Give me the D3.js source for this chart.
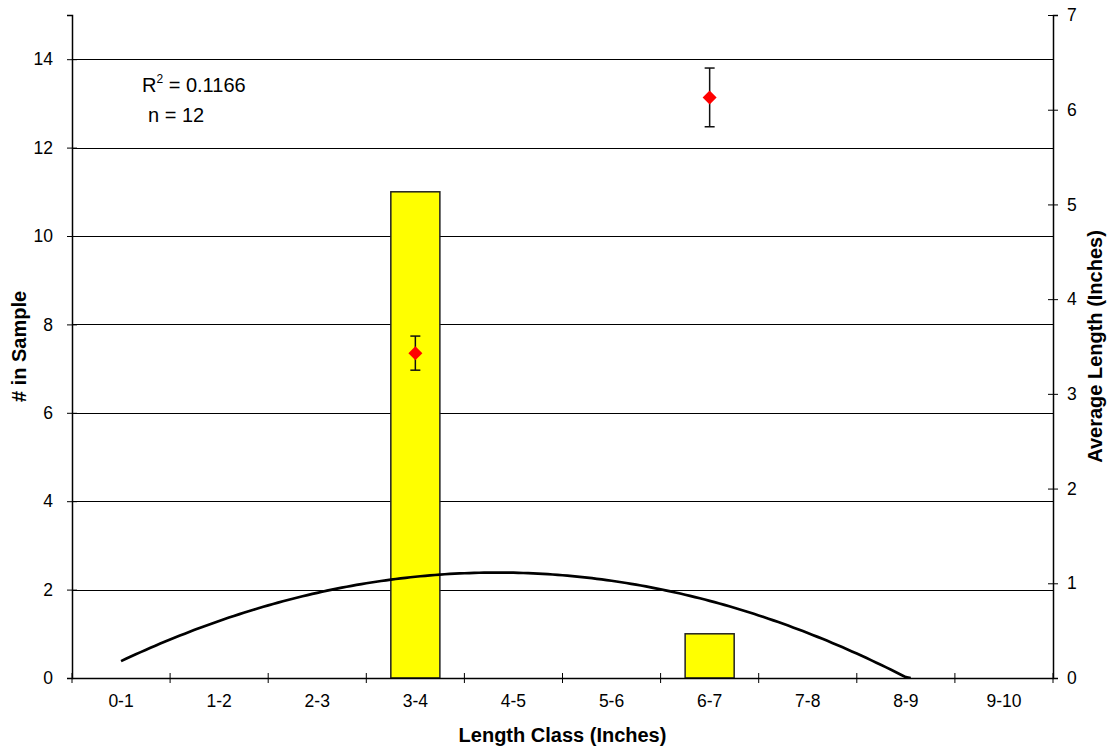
<!DOCTYPE html>
<html>
<head>
<meta charset="utf-8">
<script src="https://cdn.jsdelivr.net/npm/d3@7"></script>
<style>
  body { margin: 0; background: #fff; }
  text { font-family: "Liberation Sans", Arial, sans-serif; fill: #000; }
</style>
</head>
<body>
<div id="chart"></div>
<script>
// length classes and counts
var classes = ["0-1", "1-2", "2-3", "3-4", "4-5", "5-6", "6-7", "7-8", "8-9", "9-10"];
var counts = [0, 0, 0, 11, 0, 0, 1, 0, 0, 0];

// average length (right axis) with error bars
var avgClass = ["3-4", "6-7"];
var avgValue = [3.43, 6.13];
var avgErr = [0.18, 0.31];

var leftTicks = [0, 2, 4, 6, 8, 10, 12, 14];
var rightTicks = [0, 1, 2, 3, 4, 5, 6, 7];

var width = 1112, height = 752;
var margin = {top: 15, right: 59, bottom: 74, left: 72};
var w = width - margin.left - margin.right,
    h = height - margin.top - margin.bottom;

var svg = d3.select("#chart").append("svg")
  .attr("width", width)
  .attr("height", height);

var g = svg.append("g")
  .attr("transform", "translate(" + margin.left + "," + margin.top + ")");

var x = d3.scaleBand().domain(classes).range([0, w]);
var yL = d3.scaleLinear().domain([0, 15]).range([h, 0]);
var yR = d3.scaleLinear().domain([0, 7]).range([h, 0]);

g.append("clipPath").attr("id", "plot")
  .append("rect").attr("width", w).attr("height", h);

// gridlines
g.selectAll(".grid")
  .data(leftTicks.slice(1))
  .enter().append("line")
  .attr("x1", 0).attr("x2", w)
  .attr("y1", function(d) { return Math.round(yL(d)) + 0.5; })
  .attr("y2", function(d) { return Math.round(yL(d)) + 0.5; })
  .attr("stroke", "#000")
  .attr("stroke-width", 1);

// bars
g.selectAll(".bar")
  .data(counts.map(function(c, i) { return {k: classes[i], v: c}; }).filter(function(d) { return d.v > 0; }))
  .enter().append("rect")
  .attr("x", function(d) { return x(d.k) + x.bandwidth() / 4; })
  .attr("width", x.bandwidth() / 2)
  .attr("y", function(d) { return yL(d.v); })
  .attr("height", function(d) { return h - yL(d.v); })
  .attr("fill", "#ffff00")
  .attr("stroke", "#222")
  .attr("stroke-width", 1.5);

// polynomial (order 2) trendline fitted to the counts
var xs = counts.map(function(c, i) { return i + 1; });
function fitQuad(X, Y) {
  var n = X.length, s = [0, 0, 0, 0, 0], t = [0, 0, 0];
  for (var i = 0; i < n; i++) {
    for (var p = 0; p < 5; p++) s[p] += Math.pow(X[i], p);
    for (var q = 0; q < 3; q++) t[q] += Math.pow(X[i], q) * Y[i];
  }
  var M = [[s[0], s[1], s[2], t[0]], [s[1], s[2], s[3], t[1]], [s[2], s[3], s[4], t[2]]];
  for (var c = 0; c < 3; c++) {
    for (var r = c + 1; r < 3; r++) {
      var f = M[r][c] / M[c][c];
      for (var k = c; k < 4; k++) M[r][k] -= f * M[c][k];
    }
  }
  var b = [0, 0, 0];
  for (var r2 = 2; r2 >= 0; r2--) {
    var sum = M[r2][3];
    for (var k2 = r2 + 1; k2 < 3; k2++) sum -= M[r2][k2] * b[k2];
    b[r2] = sum / M[r2][r2];
  }
  return b;
}
var coef = fitQuad(xs, counts);
var xPos = d3.scaleLinear().domain([1, 10])
  .range([x(classes[0]) + x.bandwidth() / 2, x(classes[9]) + x.bandwidth() / 2]);
var curve = d3.range(1, 10.001, 0.05).map(function(t) {
  return [t, coef[0] + coef[1] * t + coef[2] * t * t];
}).filter(function(d) { return d[1] >= -0.05; });

g.append("path")
  .datum(curve)
  .attr("clip-path", "url(#plot)")
  .attr("fill", "none")
  .attr("stroke", "#000")
  .attr("stroke-width", 2.7)
  .attr("d", d3.line()
    .x(function(d) { return xPos(d[0]); })
    .y(function(d) { return yL(Math.max(d[1], 0)); }));

// error bars + diamonds
var pts = avgClass.map(function(k, i) { return {k: k, v: avgValue[i], e: avgErr[i]}; });
var eb = g.selectAll(".eb").data(pts).enter().append("g")
  .attr("transform", function(d) { return "translate(" + (x(d.k) + x.bandwidth() / 2) + ",0)"; });
eb.append("line")
  .attr("y1", function(d) { return yR(d.v + d.e); })
  .attr("y2", function(d) { return yR(d.v - d.e); })
  .attr("stroke", "#111").attr("stroke-width", 1.5);
eb.selectAll(".cap")
  .data(function(d) { return [d.v + d.e, d.v - d.e]; })
  .enter().append("line")
  .attr("x1", -5).attr("x2", 5)
  .attr("y1", function(d) { return yR(d); })
  .attr("y2", function(d) { return yR(d); })
  .attr("stroke", "#111").attr("stroke-width", 1.5);
eb.append("path")
  .attr("d", d3.symbol(d3.symbolDiamond2, 125))
  .attr("transform", function(d) { return "translate(0," + yR(d.v) + ")"; })
  .attr("fill", "#ff0000");

// axes
var axisL = g.append("g")
  .call(d3.axisLeft(yL).tickValues(leftTicks).tickSize(5).tickPadding(14));
var axisR = g.append("g").attr("transform", "translate(" + w + ",0)")
  .call(d3.axisRight(yR).tickValues(rightTicks).tickFormat(d3.format("d")).tickSize(5).tickPadding(9));
axisR.selectAll(".tick line").attr("x1", -5);
var axisB = g.append("g").attr("transform", "translate(0," + h + ")")
  .call(d3.axisBottom(x).tickValues([]).tickSize(0));
axisB.selectAll(".cl").data(classes).enter().append("text")
  .attr("x", function(d) { return x(d) + x.bandwidth() / 2; })
  .attr("y", 29)
  .attr("text-anchor", "middle")
  .style("font-size", "17.5px")
  .text(function(d) { return d; });
axisB.selectAll(".bt").data(d3.range(classes.length + 1)).enter().append("line")
  .attr("x1", function(d) { return d * x.bandwidth(); })
  .attr("x2", function(d) { return d * x.bandwidth(); })
  .attr("y1", -5).attr("y2", 5)
  .attr("stroke", "#000");

[axisL, axisR, axisB].forEach(function(a) {
  a.select(".domain").attr("stroke", "#000").attr("stroke-width", 1.5);
  a.selectAll(".tick line").attr("stroke", "#000");
  a.selectAll(".tick text").style("font-size", "17.5px").style("font-family", "Liberation Sans, Arial, sans-serif");
});
axisL.selectAll(".tick line").attr("x2", -5).attr("x1", 5);

// axis titles
svg.append("text")
  .attr("x", margin.left + w / 2).attr("y", 742)
  .attr("text-anchor", "middle")
  .style("font-size", "20px").style("font-weight", "bold")
  .text("Length Class (Inches)");
svg.append("text")
  .attr("transform", "translate(26," + (margin.top + h / 2) + ") rotate(-90)")
  .attr("text-anchor", "middle")
  .style("font-size", "20px").style("font-weight", "bold")
  .text("# in Sample");
svg.append("text")
  .attr("transform", "translate(1102," + (margin.top + h / 2) + ") rotate(-90)")
  .attr("text-anchor", "middle")
  .style("font-size", "20px").style("font-weight", "bold")
  .text("Average Length (Inches)");

// annotation
var ann = svg.append("text").attr("x", 142).attr("y", 92).style("font-size", "20px");
ann.append("tspan").text("R");
ann.append("tspan").attr("dy", -9).style("font-size", "12px").text("2");
ann.append("tspan").attr("dy", 9).text(" = 0.1166");
svg.append("text").attr("x", 148).attr("y", 122).style("font-size", "20px").text("n = 12");
</script>
</body>
</html>
